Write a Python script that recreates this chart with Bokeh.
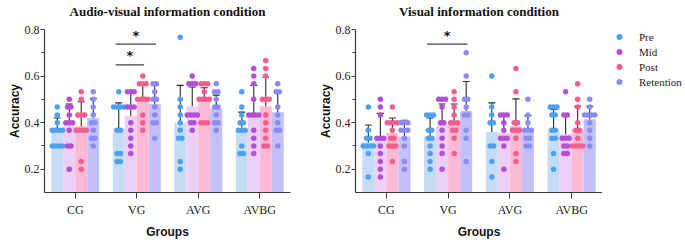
from bokeh.plotting import figure
from bokeh.layouts import row
from bokeh.models import (FixedTicker, ColumnDataSource, Whisker, TeeHead,
                          Legend, LegendItem, Title)
from bokeh.core.properties import value
from bokeh.embed import file_html
from bokeh.resources import INLINE

groups = ["CG", "VG", "AVG", "AVBG"]
phases = ["Pre", "Mid", "Post", "Retention"]

# ---------------- Audio-visual information condition ----------------
av_pre = {
    "CG": [0.467, 0.433, 0.4, 0.367, 0.367, 0.367, 0.367, 0.3, 0.3, 0.3, 0.3],
    "VG": [0.533, 0.467, 0.467, 0.467, 0.467, 0.367, 0.367, 0.267, 0.267, 0.233, 0.233],
    "AVG": [0.767, 0.5, 0.467, 0.433, 0.4, 0.367, 0.333, 0.333, 0.233, 0.2],
    "AVBG": [0.533, 0.467, 0.433, 0.4, 0.4, 0.367, 0.367, 0.367, 0.3, 0.267, 0.267],
}
av_mid = {
    "CG": [0.5, 0.467, 0.467, 0.433, 0.4, 0.4, 0.4, 0.367, 0.3, 0.3, 0.2],
    "VG": [0.533, 0.533, 0.533, 0.467, 0.467, 0.467, 0.4, 0.367, 0.333, 0.3, 0.267],
    "AVG": [0.6, 0.567, 0.567, 0.567, 0.433, 0.433, 0.433, 0.433, 0.4, 0.4, 0.367],
    "AVBG": [0.633, 0.6, 0.567, 0.5, 0.433, 0.433, 0.433, 0.433, 0.367, 0.333, 0.3, 0.267],
}
av_post = {
    "CG": [0.533, 0.5, 0.433, 0.433, 0.433, 0.367, 0.367, 0.367, 0.367, 0.233, 0.2],
    "VG": [0.6, 0.567, 0.567, 0.567, 0.5, 0.5, 0.5, 0.5, 0.433, 0.4, 0.367],
    "AVG": [0.567, 0.567, 0.567, 0.533, 0.5, 0.5, 0.5, 0.5, 0.4, 0.4, 0.4],
    "AVBG": [0.667, 0.633, 0.6, 0.5, 0.5, 0.5, 0.433, 0.4, 0.367, 0.333, 0.3, 0.3],
}
av_ret = {
    "CG": [0.533, 0.5, 0.467, 0.433, 0.4, 0.4, 0.367, 0.333, 0.333, 0.3],
    "VG": [0.567, 0.567, 0.533, 0.5, 0.5, 0.467, 0.433, 0.4, 0.4, 0.333],
    "AVG": [0.567, 0.533, 0.533, 0.5, 0.467, 0.467, 0.433, 0.4, 0.4, 0.367],
    "AVBG": [0.567, 0.533, 0.533, 0.467, 0.433, 0.4, 0.367, 0.367, 0.3],
}
av_mean_pre = [0.365, 0.375, 0.40, 0.37]
av_sd_pre = [0.055, 0.11, 0.16, 0.075]
av_mean_mid = [0.39, 0.43, 0.47, 0.44]
av_sd_mid = [0.09, 0.095, 0.083, 0.12]
av_mean_post = [0.385, 0.50, 0.49, 0.47]
av_sd_post = [0.105, 0.07, 0.06, 0.125]
av_mean_ret = [0.42, 0.48, 0.46, 0.445]
av_sd_ret = [0.083, 0.09, 0.058, 0.085]

# ---------------- Visual information condition ----------------
v_pre = {
    "CG": [0.467, 0.367, 0.333, 0.333, 0.3, 0.3, 0.3, 0.3, 0.267, 0.167],
    "VG": [0.433, 0.433, 0.433, 0.367, 0.367, 0.333, 0.333, 0.3, 0.267, 0.233, 0.2],
    "AVG": [0.6, 0.467, 0.433, 0.4, 0.4, 0.3, 0.3, 0.233, 0.167],
    "AVBG": [0.467, 0.467, 0.467, 0.433, 0.433, 0.367, 0.367, 0.333, 0.333, 0.267, 0.2],
}
v_mid = {
    "CG": [0.5, 0.467, 0.433, 0.333, 0.333, 0.333, 0.3, 0.267, 0.233, 0.2, 0.167],
    "VG": [0.5, 0.5, 0.5, 0.467, 0.4, 0.4, 0.367, 0.333, 0.3, 0.267, 0.2],
    "AVG": [0.433, 0.433, 0.433, 0.4, 0.367, 0.333, 0.333, 0.333, 0.3, 0.2],
    "AVBG": [0.533, 0.433, 0.433, 0.333, 0.333, 0.333, 0.3, 0.3, 0.267, 0.267],
}
v_post = {
    "CG": [0.467, 0.4, 0.4, 0.4, 0.4, 0.367, 0.333, 0.333, 0.3, 0.3, 0.3, 0.233],
    "VG": [0.533, 0.5, 0.467, 0.433, 0.4, 0.4, 0.4, 0.367, 0.367, 0.333, 0.267],
    "AVG": [0.633, 0.533, 0.4, 0.4, 0.367, 0.367, 0.367, 0.333, 0.267, 0.233],
    "AVBG": [0.567, 0.5, 0.467, 0.4, 0.367, 0.367, 0.333, 0.3, 0.3, 0.3, 0.3],
}
v_ret = {
    "CG": [0.4, 0.4, 0.4, 0.367, 0.367, 0.367, 0.333, 0.3, 0.233, 0.2],
    "VG": [0.7, 0.6, 0.5, 0.5, 0.467, 0.433, 0.433, 0.367, 0.333, 0.233],
    "AVG": [0.5, 0.433, 0.4, 0.367, 0.367, 0.367, 0.333, 0.333, 0.3, 0.3],
    "AVBG": [0.5, 0.467, 0.433, 0.433, 0.433, 0.433, 0.4, 0.367, 0.333, 0.3],
}
v_mean_pre = [0.315, 0.34, 0.36, 0.37]
v_sd_pre = [0.075, 0.08, 0.125, 0.087]
v_mean_mid = [0.33, 0.39, 0.355, 0.35]
v_sd_mid = [0.11, 0.09, 0.072, 0.082]
v_mean_post = [0.355, 0.405, 0.385, 0.375]
v_sd_post = [0.065, 0.075, 0.117, 0.095]
v_mean_ret = [0.34, 0.45, 0.37, 0.415]
v_sd_ret = [0.07, 0.127, 0.06, 0.055]

# significance marks: (group, from phase, to phase)
av_sig = [("VG", "Pre", "Retention"), ("VG", "Pre", "Post")]
v_sig = [("VG", "Pre", "Retention")]

bar_colors = ["#c6dcf5", "#eccff4", "#fcbad5", "#c3c0f8"]
dot_colors = ["#4ea1f0", "#b24fd4", "#f45d8e", "#8b8bf4"]

BAR_W = 0.195
OFFS = [-1.5 * BAR_W, -0.5 * BAR_W, 0.5 * BAR_W, 1.5 * BAR_W]
SWARM = 0.055
SERIF = "Liberation Serif"
SANS = "Liberation Sans"
AXC = "#3a3a3a"


def swarm_x(center, vals):
    xs = []
    counts = {}
    for v in vals:
        counts[v] = counts.get(v, 0) + 1
    seen = {}
    for v in vals:
        n = counts[v]
        i = seen.get(v, 0)
        seen[v] = i + 1
        xs.append(center + (i - (n - 1) / 2) * SWARM)
    return xs


def style_axis(ax):
    ax.axis_line_color = AXC
    ax.axis_line_width = 1.2
    ax.major_tick_line_color = AXC
    ax.major_label_text_font = SERIF
    ax.major_label_text_font_size = "12px"
    ax.major_label_text_color = "#222222"
    ax.axis_label_text_font = SANS
    ax.axis_label_text_font_style = "bold"
    ax.axis_label_text_font_size = "12px"
    ax.axis_label_text_color = "#111111"


def make_panel(title, points, means, sds, sigs, fw, bl, br):
    p = figure(frame_width=fw, frame_height=163,
               x_range=(-0.5, 3.5), y_range=(0.1, 0.8),
               output_backend="svg", toolbar_location=None,
               min_border_left=bl, min_border_right=br,
               min_border_top=29, min_border_bottom=47)
    p.grid.visible = False
    p.outline_line_color = None

    p.title.text = title
    p.title.align = "center"
    p.title.text_font = SERIF
    p.title.text_font_size = "13px"
    p.title.text_font_style = "bold"
    p.title.text_color = "#111111"
    p.title.standoff = 0
    # small gap between title and plot area
    p.add_layout(Title(text=" ", text_font_size="8px", standoff=0), "above")

    for k in range(4):
        xs = [g + OFFS[k] for g in range(4)]
        p.vbar(x=xs, top=means[k], bottom=0.1, width=BAR_W,
               fill_color=bar_colors[k], line_color=None)
    for k in range(4):
        px, py = [], []
        for g, name in enumerate(groups):
            vals = points[k][name]
            px += swarm_x(g + OFFS[k], vals)
            py += vals
        p.scatter(x=px, y=py, size=5.5, fill_color=dot_colors[k], line_color=None)
    for k in range(4):
        xs = [g + OFFS[k] for g in range(4)]
        src = ColumnDataSource(dict(
            x=xs,
            upper=[m + s for m, s in zip(means[k], sds[k])],
            lower=[m - s for m, s in zip(means[k], sds[k])]))
        w = Whisker(base="x", upper="upper", lower="lower", source=src,
                    line_color="#2a2a2a", line_width=1.1,
                    upper_head=TeeHead(size=7, line_color="#2a2a2a", line_width=1.1),
                    lower_head=TeeHead(size=7, line_color="#2a2a2a", line_width=1.1))
        p.add_layout(w)

    sig_y = [0.737, 0.648]
    star_y = [0.776, 0.69]
    for i, (gname, a, b) in enumerate(sigs):
        g = groups.index(gname)
        x0 = g + OFFS[phases.index(a)] - 0.05
        x1 = g + OFFS[phases.index(b)] + 0.02
        p.segment(x0=[x0], y0=[sig_y[i]], x1=[x1], y1=[sig_y[i]],
                  line_color="#444444", line_width=1.2)
        p.text(x=[(x0 + x1) / 2], y=[star_y[i]], text=["*"],
               text_font=value("DejaVu Sans"), text_font_style="bold",
               text_font_size="13px", text_align="center",
               text_baseline="middle", text_color="#111111")

    p.xaxis.ticker = FixedTicker(ticks=[0, 1, 2, 3])
    p.xaxis.major_label_overrides = {i: g for i, g in enumerate(groups)}
    p.xaxis.minor_tick_line_color = None
    p.xaxis.major_tick_out = 6
    p.xaxis.major_tick_in = 0
    p.xaxis.major_label_standoff = 4
    p.xaxis.axis_label = "Groups"
    p.xaxis.axis_label_standoff = 5

    p.yaxis.ticker = FixedTicker(ticks=[0.2, 0.4, 0.6, 0.8], minor_ticks=[0.3, 0.5, 0.7])
    p.yaxis.major_tick_out = 4
    p.yaxis.major_tick_in = 0
    p.yaxis.minor_tick_out = 3
    p.yaxis.minor_tick_in = 0
    p.yaxis.minor_tick_line_color = AXC
    p.yaxis.major_label_standoff = 1
    p.yaxis.axis_label = "Accuracy"
    p.yaxis.axis_label_standoff = 0

    style_axis(p.xaxis)
    style_axis(p.yaxis)
    return p


p1 = make_panel("Audio-visual information condition",
                [av_pre, av_mid, av_post, av_ret],
                [av_mean_pre, av_mean_mid, av_mean_post, av_mean_ret],
                [av_sd_pre, av_sd_mid, av_sd_post, av_sd_ret],
                av_sig, 246, 44, 10)
p2 = make_panel("Visual information condition",
                [v_pre, v_mid, v_post, v_ret],
                [v_mean_pre, v_mean_mid, v_mean_post, v_mean_ret],
                [v_sd_pre, v_sd_mid, v_sd_post, v_sd_ret],
                v_sig, 247, 55, 0)

# legend panel
p3 = figure(width=83, height=240, x_range=(0, 1), y_range=(0, 1),
            output_backend="svg", toolbar_location=None,
            x_axis_type=None, y_axis_type=None,
            min_border_left=7, min_border_right=0,
            min_border_top=20, min_border_bottom=0)
p3.grid.visible = False
p3.outline_line_color = None
items = []
for k, ph in enumerate(phases):
    r = p3.scatter(x=[-5], y=[-5], size=5.5, fill_color=dot_colors[k], line_color=None)
    items.append(LegendItem(label=ph, renderers=[r]))
leg = Legend(items=items, location="top_left",
             border_line_color=None, background_fill_alpha=0,
             label_text_font=SERIF, label_text_font_size="11px",
             label_text_color="#222222",
             glyph_width=20, glyph_height=15, label_height=15,
             label_standoff=10, spacing=0, padding=8, margin=0)
p3.add_layout(leg)

layout = row(p1, p2, p3)
open("out.html", "w").write(file_html(layout, INLINE))
